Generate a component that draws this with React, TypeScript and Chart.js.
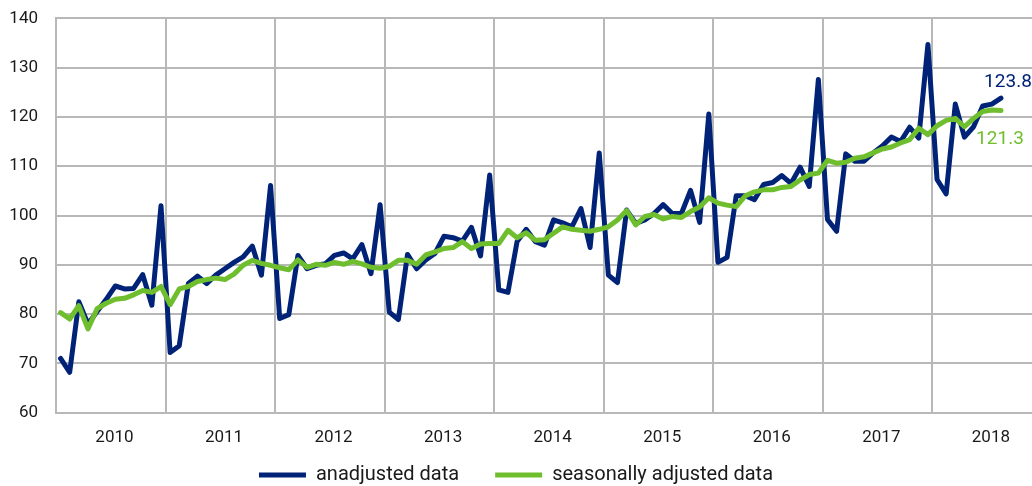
import React, { useEffect, useRef } from "react";
import { Chart, registerables } from "chart.js";

Chart.register(...registerables);

const years = ["2010", "2011", "2012", "2013", "2014", "2015", "2016", "2017", "2018"];

const unadjusted = [
  71.0, 68.2, 82.5, 78.0, 80.5, 83.0, 85.7, 85.1, 85.2, 88.0, 81.8, 102.0,
  72.2, 73.6, 86.2, 87.7, 86.2, 87.9, 89.2, 90.5, 91.6, 93.8, 87.9, 106.1,
  79.1, 79.9, 91.9, 89.2, 89.9, 90.2, 91.9, 92.4, 91.2, 94.1, 88.2, 102.2,
  80.4, 78.9, 92.1, 89.2, 91.0, 92.3, 95.8, 95.5, 94.8, 97.6, 91.8, 108.2,
  84.9, 84.4, 94.7, 97.2, 94.7, 94.0, 99.1, 98.5, 97.7, 101.4, 93.5, 112.7,
  87.9, 86.4, 101.1, 98.4, 99.1, 100.4, 102.2, 100.4, 100.4, 105.1, 98.6, 120.6,
  90.5, 91.5, 104.0, 104.0, 103.2, 106.3, 106.7, 108.1, 106.5, 109.8, 105.9, 127.6,
  99.2, 96.8, 112.5, 111.0, 111.0, 112.7, 114.1, 115.9, 115.0, 117.9, 115.7, 134.7,
  107.3, 104.4, 122.6, 115.9, 118.0, 122.2, 122.6, 123.8,
];

const seasonallyAdjusted = [
  80.3, 79.0, 81.7, 77.0, 81.1, 82.2, 83.0, 83.2, 83.9, 84.8, 84.4, 85.6,
  81.9, 85.1, 85.6, 86.6, 87.0, 87.3, 87.0, 88.1, 89.9, 90.9, 90.3, 89.9,
  89.4, 89.0, 91.0, 89.5, 90.1, 89.9, 90.5, 90.1, 90.7, 90.2, 89.5, 89.3,
  89.7, 90.9, 90.9, 90.1, 92.0, 92.6, 93.3, 93.5, 94.7, 93.3, 94.2, 94.3,
  94.3, 97.0, 95.5, 96.5, 95.0, 95.1, 96.4, 97.7, 97.2, 97.0, 96.8, 97.2,
  97.7, 99.1, 101.0, 98.1, 99.8, 100.2, 99.3, 99.8, 99.6, 100.8, 101.7, 103.6,
  102.5, 102.1, 101.8, 104.0, 104.8, 105.2, 105.2, 105.7, 105.9, 107.2, 108.3, 108.6,
  111.2, 110.6, 110.8, 111.6, 111.9, 112.7, 113.5, 113.9, 114.7, 115.4, 117.7, 116.4,
  118.2, 119.3, 119.7, 118.0, 119.7, 121.1, 121.4, 121.3,
];

const yTicks = [60, 70, 80, 90, 100, 110, 120, 130, 140];
const seriesNames = ["anadjusted data", "seasonally adjusted data"];

const BLUE = "#002378";
const GREEN = "#6ebe2d";
const GRID = "#b8b8b8";
const TEXT = "#1a1a1a";
const FONT = "Roboto";

const endLabels = {
  id: "endLabels",
  afterDatasetsDraw(chart: any) {
    const ctx = chart.ctx;
    ctx.save();
    ctx.font = `19px ${FONT}`;
    ctx.textAlign = "center";
    ctx.textBaseline = "middle";
    chart.data.datasets.forEach((ds: any, i: number) => {
      const meta = chart.getDatasetMeta(i);
      const pt = meta.data[meta.data.length - 1];
      if (!pt) return;
      const v = ds.data[ds.data.length - 1].y;
      ctx.fillStyle = ds.borderColor;
      if (i === 0) ctx.fillText(v.toFixed(1), pt.x + 7, pt.y - 16);
      else ctx.fillText(v.toFixed(1), pt.x - 1, pt.y + 29);
    });
    ctx.restore();
  },
};

export default function App() {
  const ref = useRef<HTMLCanvasElement | null>(null);
  useEffect(() => {
    if (!ref.current) return;
    const chart = new Chart(ref.current, {
      type: "line",
      data: {
        datasets: [
          {
            label: seriesNames[0],
            data: unadjusted.map((v, i) => ({ x: i + 0.5, y: v })),
            borderColor: BLUE,
            backgroundColor: BLUE,
            borderWidth: 5,
            pointRadius: 0,
            tension: 0,
            borderJoinStyle: "round",
            borderCapStyle: "round",
            order: 1,
          },
          {
            label: seriesNames[1],
            data: seasonallyAdjusted.map((v, i) => ({ x: i + 0.5, y: v })),
            borderColor: GREEN,
            backgroundColor: GREEN,
            borderWidth: 5,
            pointRadius: 0,
            tension: 0,
            borderJoinStyle: "round",
            borderCapStyle: "round",
            order: 0,
          },
        ],
      },
      options: {
        animation: false,
        responsive: true,
        maintainAspectRatio: false,
        layout: { padding: { top: 18.3, left: 0, right: 0, bottom: -9 } },
        plugins: {
          tooltip: { enabled: false },
          legend: {
            position: "bottom",
            labels: {
              usePointStyle: true,
              pointStyle: "line",
              pointStyleWidth: 47,
              padding: 36,
              color: TEXT,
              font: { family: FONT, size: 20 },
              sort: (a: any, b: any) => a.datasetIndex - b.datasetIndex,
            },
          },
        },
        scales: {
          x: {
            type: "linear",
            min: 0,
            max: 106.9,
            afterBuildTicks: (scale: any) => {
              const t: any[] = [];
              years.forEach((_, k) => {
                t.push({ value: k * 12 });
                t.push({ value: k * 12 + 6.4 });
              });
              scale.ticks = t.filter((x) => x.value <= 106.9);
            },
            afterFit: (scale: any) => {
              scale.height = 16.3;
              scale.paddingLeft = 0;
              scale.paddingRight = 0;
            },
            ticks: {
              autoSkip: false,
              mirror: true,
              maxRotation: 0,
              minRotation: 0,
              padding: -35,
              color: TEXT,
              font: { family: FONT, size: 17 },
              callback: (value: any) => {
                const v = Number(value);
                if (Math.abs(v % 12) < 1e-6) return "";
                return years[Math.floor(v / 12)];
              },
            },
            grid: {
              drawTicks: false,
              lineWidth: 2,
              color: (c: any) =>
                c.tick && Math.abs(c.tick.value % 12) < 1e-6 ? GRID : "rgba(0,0,0,0)",
            },
            border: { display: true, color: GRID, width: 2 },
          },
          y: {
            min: 60,
            max: 140,
            afterBuildTicks: (scale: any) => {
              scale.ticks = yTicks.map((v) => ({ value: v }));
            },
            afterFit: (scale: any) => {
              scale.width = 56;
              scale.paddingTop = 0;
              scale.paddingBottom = 0;
            },
            ticks: {
              padding: 18,
              color: TEXT,
              font: { family: FONT, size: 17 },
            },
            grid: { drawTicks: false, lineWidth: 2, color: GRID },
            border: { display: true, color: GRID, width: 2 },
          },
        },
      },
      plugins: [endLabels],
    } as any);
    return () => chart.destroy();
  }, []);

  return (
    <div style={{ position: "fixed", left: 0, top: 0, width: 1032, height: 486, background: "#fff" }}>
      <canvas ref={ref} />
    </div>
  );
}
